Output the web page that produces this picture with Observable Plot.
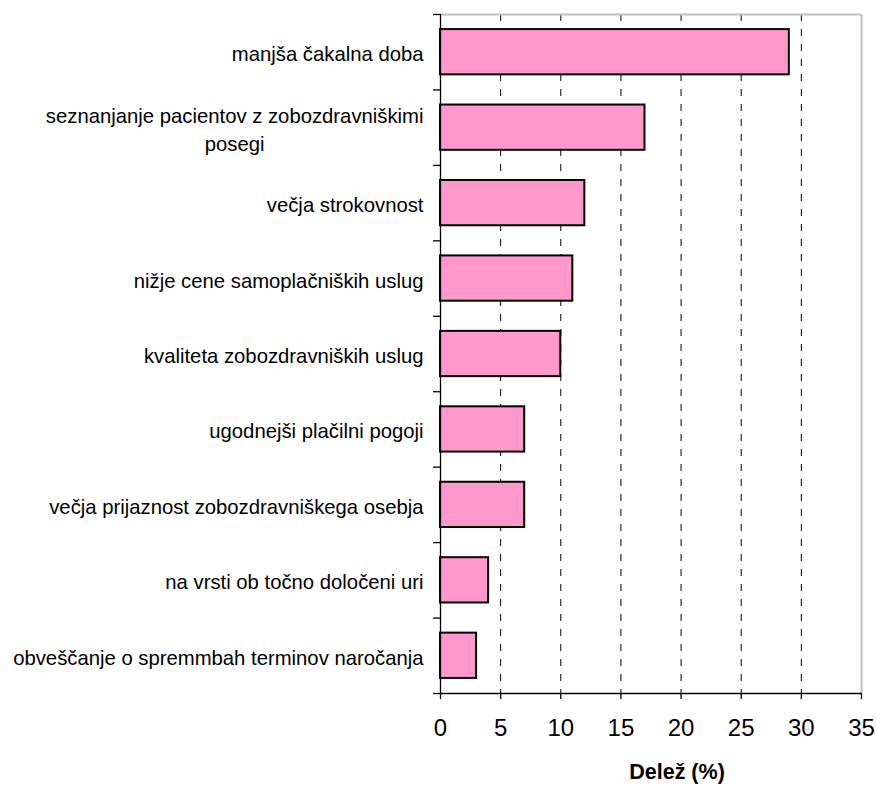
<!DOCTYPE html>
<html>
<head>
<meta charset="utf-8">
<script src="https://cdn.jsdelivr.net/npm/d3@7"></script>
<script src="https://cdn.jsdelivr.net/npm/@observablehq/plot@0.6"></script>
<style>
  html, body { margin: 0; padding: 0; background: #fff; }
  #chart svg { display: block; font-family: "Liberation Sans", Arial, sans-serif; }
</style>
</head>
<body>
<div id="chart"></div>
<script>
// Reasons (top to bottom) and their share in percent
const categories = [
  "manjša čakalna doba",
  "seznanjanje pacientov z zobozdravniškimi\nposegi",
  "večja strokovnost",
  "nižje cene samoplačniških uslug",
  "kvaliteta zobozdravniških uslug",
  "ugodnejši plačilni pogoji",
  "večja prijaznost zobozdravniškega osebja",
  "na vrsti ob točno določeni uri",
  "obveščanje o spremmbah terminov naročanja"
];
const values = [29, 17, 12, 11, 10, 7, 7, 4, 3];
const xTicks = [0, 5, 10, 15, 20, 25, 30, 35];
const axisTitle = "Delež (%)";

const rows = categories.map((label, i) => ({label, value: values[i], i}));

// Measure label widths so multi-line labels can be centred on their widest line
const labelFont = 20.3;
const ctx = document.createElement("canvas").getContext("2d");
ctx.font = `${labelFont}px 'Liberation Sans', Arial, sans-serif`;
const labelWidth = (s) => d3.max(s.split("\n"), (line) => ctx.measureText(line).width);

const labelMarks = rows.map((d) =>
  Plot.text([d], {
    x: 0,
    y: (r) => r.i + 0.5,
    text: "label",
    textAnchor: "middle",
    lineHeight: 1.38,
    fontSize: labelFont,
    fill: "black",
    dx: -17 - labelWidth(d.label) / 2
  })
);

const chart = Plot.plot({
  width: 876,
  height: 792,
  marginLeft: 440,
  marginRight: 15,
  marginTop: 14,
  marginBottom: 99,
  x: {domain: [0, 35]},
  y: {domain: [0, categories.length], reverse: true},
  marks: [
    // dashed vertical gridlines
    Plot.gridX({ticks: xTicks.slice(1, -1), stroke: "black", strokeOpacity: 1, strokeWidth: 1, strokeDasharray: "7,8"}),
    // light frame on top and right
    Plot.ruleY([0], {stroke: "#c0c0c0", strokeWidth: 2}),
    Plot.ruleX([35], {stroke: "#c0c0c0", strokeWidth: 2}),
    // bars
    Plot.rect(rows, {
      x1: 0,
      x2: "value",
      y1: (d) => d.i + 0.2,
      y2: (d) => d.i + 0.8,
      fill: "#ff99cc",
      stroke: "black",
      strokeWidth: 2
    }),
    // axes
    Plot.ruleX([0], {stroke: "black", strokeWidth: 1.3}),
    Plot.ruleY([categories.length], {stroke: "black", strokeWidth: 1.3}),
    Plot.axisY({ticks: d3.range(0, categories.length + 1), tickSize: 7, tickFormat: () => "", strokeWidth: 1.3, label: null}),
    Plot.axisX({ticks: xTicks, tickSize: 6, tickPadding: 19, fontSize: 24, strokeWidth: 1.3, label: null, fill: "black"}),
    ...labelMarks,
    Plot.text([axisTitle], {frameAnchor: "bottom", dx: 26, dy: 85, fontSize: 21.5, fontWeight: "bold", fill: "black"})
  ]
});

document.getElementById("chart").appendChild(chart);
</script>
</body>
</html>
